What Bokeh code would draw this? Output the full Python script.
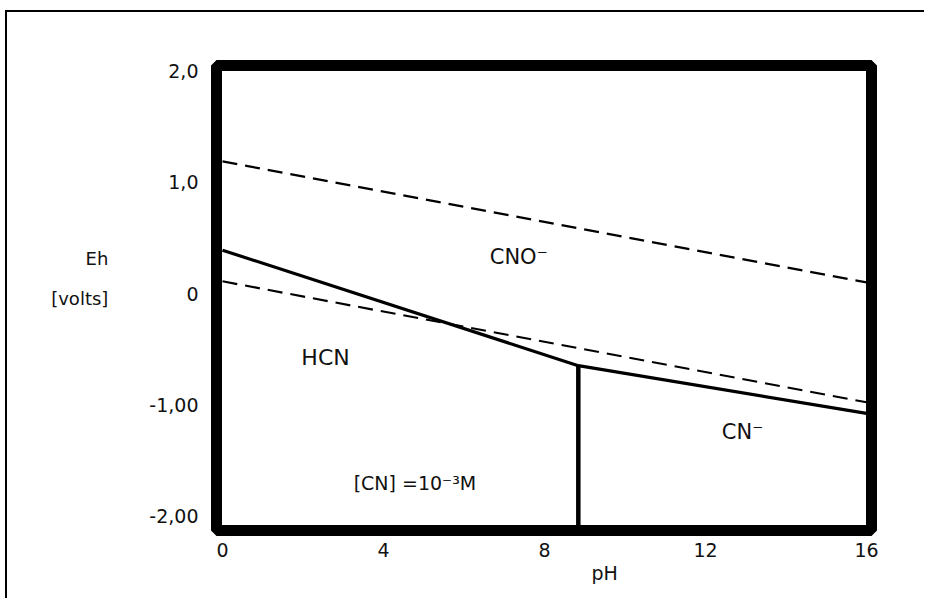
from bokeh.plotting import figure
from bokeh.models import Range1d, FixedTicker, Label, Title
from bokeh.embed import file_html
from bokeh.resources import INLINE

# ---------------- data ----------------
ph_ticks = [0, 4, 8, 12, 16]
eh_ticks = [-2, -1, 0, 1, 2]
eh_tick_labels = ["-2,00", "-1,00", "0", "1,0", "2,0"]

# CNO- / (HCN, CN-) boundary, solid
boundary_ph = [0.0, 8.84, 16.0]
boundary_eh = [0.39, -0.65, -1.08]

# HCN / CN- boundary (vertical), solid
pka_ph = [8.84, 8.84]
pka_eh = [-0.65, -2.30]

# water stability limits, dashed
water_ph = [0.0, 16.0]
water_upper_eh = [1.19, 0.10]
water_lower_eh = [0.11, -0.98]

region_names = ["CNO⁻", "HCN", "CN⁻"]
note_text = "[CN] =10⁻³M"
x_title = "pH"
y_title = "Eh\n[volts]\n"

# ---------------- figure ----------------
FONT = "DejaVu Sans"
INK = "#111111"

p = figure(width=919, height=588,
           x_range=Range1d(-0.149, 16.124), y_range=Range1d(-2.135, 2.054),
           output_backend="svg", toolbar_location=None,
           min_border_left=209, min_border_right=55,
           min_border_top=53, min_border_bottom=70)

# thin outer border of the scanned picture (left and top edges visible)
p.styles = {"margin-left": "5px", "margin-top": "10px",
            "border-left": "2px solid black", "border-top": "2px solid black"}

p.grid.visible = False
p.background_fill_color = "white"
p.border_fill_color = "white"
p.outline_line_color = "black"
p.outline_line_width = 11

for ax in (p.xaxis, p.yaxis):
    ax.axis_line_color = None
    ax.major_tick_line_color = None
    ax.minor_tick_line_color = None
    ax.major_tick_out = 0
    ax.major_tick_in = 0
    ax.minor_tick_out = 0
    ax.minor_tick_in = 0
    ax.major_label_text_font = FONT
    ax.major_label_text_font_size = "19px"
    ax.major_label_text_color = INK

p.xaxis.ticker = FixedTicker(ticks=ph_ticks)
p.xaxis.major_label_standoff = 12
p.yaxis.ticker = FixedTicker(ticks=eh_ticks)
p.yaxis.major_label_overrides = {t: s for t, s in zip(eh_ticks, eh_tick_labels)}
p.yaxis.major_label_standoff = 18

# y title, horizontal, two lines
p.yaxis.axis_label = y_title
p.yaxis.axis_label_orientation = "horizontal"
p.yaxis.axis_label_text_font = FONT
p.yaxis.axis_label_text_font_size = "18px"
p.yaxis.axis_label_text_font_style = "normal"
p.yaxis.axis_label_text_color = INK
p.yaxis.axis_label_text_align = "center"
p.yaxis.axis_label_text_line_height = 1.9
p.yaxis.axis_label_standoff = 38

# x title placed right of centre as in the picture
p.add_layout(Title(text=x_title, align="left", offset=375, standoff=0,
                   text_font=FONT, text_font_size="19px",
                   text_font_style="normal", text_color=INK), "below")

# lines
p.line(water_ph, water_upper_eh, line_color="black", line_width=2.2, line_dash="15 8")
p.line(water_ph, water_lower_eh, line_color="black", line_width=2.2, line_dash="15 8")
p.line(boundary_ph, boundary_eh, line_color="black", line_width=3.2)
p.line(pka_ph, pka_eh, line_color="black", line_width=4.5)

def lab(x, y, text, size):
    p.add_layout(Label(x=x, y=y, text=text, text_font=FONT,
                       text_font_size=size, text_color=INK,
                       text_align="center", text_baseline="middle"))

# region names
lab(7.36, 0.33, region_names[0], "21px")
lab(2.56, -0.58, region_names[1], "22px")
lab(12.92, -1.25, region_names[2], "21px")
lab(4.78, -1.71, note_text, "19px")

open("out.html", "w").write(file_html(p, INLINE))
